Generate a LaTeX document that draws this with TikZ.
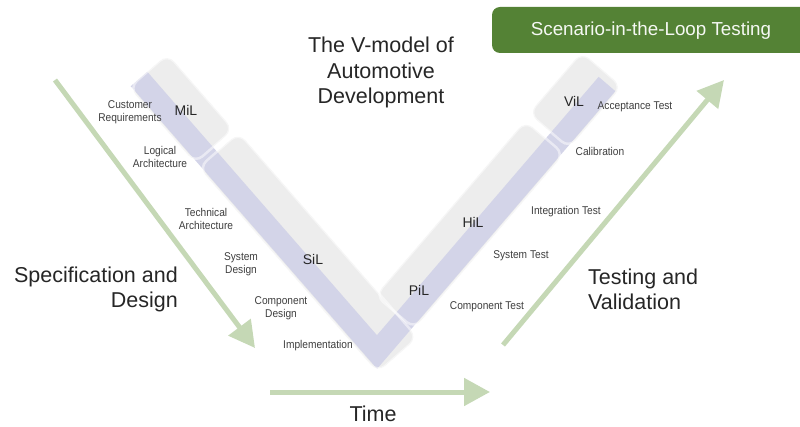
\documentclass[tikz,border=0pt]{standalone}
\usepackage{fontspec}
\setmainfont{Liberation Sans}
\newfontfamily\narrowsans[FakeStretch=0.9]{Liberation Sans}
\usetikzlibrary{arrows.meta}

\definecolor{vband}{RGB}{211,212,232}
\definecolor{vbox}{RGB}{237,237,237}
\definecolor{flow}{RGB}{197,216,181}
\definecolor{scenegreen}{RGB}{84,130,53}
\definecolor{ink}{RGB}{38,38,38}
\definecolor{labelink}{RGB}{62,62,62}

\begin{document}
\begin{tikzpicture}[x=1pt,y=-1pt,
  heading/.style={font=\fontsize{21.5}{25.5}\selectfont, text=ink, inner sep=0pt},
  stage/.style={font=\narrowsans\fontsize{11.3}{13.5}\selectfont, text=labelink, inner sep=0pt, align=center},
  level/.style={font=\fontsize{14}{16}\selectfont, text=ink, inner sep=0pt},
  phase/.style={fill=vbox, rounded corners=10pt},
  phaseedge/.style={draw=white, line width=2.5pt, draw opacity=0.5, rounded corners=10pt},
  leftarm/.style={shift={(139,79)}, x={(0.657pt,-0.754pt)}, y={(0.754pt,0.657pt)}},
  rightarm/.style={shift={(377,352)}, x={(0.651pt,0.759pt)}, y={(-0.759pt,0.651pt)}},
  flowarrow/.style={draw=flow, line width=5pt, -{Triangle[width=27pt,length=26pt]}},
  scenetext/.style={font=\fontsize{18.8}{22}\selectfont, text=white!94!scenegreen, inner sep=0pt}]

\useasboundingbox (0,0) rectangle (800,427);

% ends of the V band
\coordinate (topL) at (139,79);
\coordinate (vtx) at (377,352);
\coordinate (topR) at (607,84);

% phase boxes along the left arm (u along the arm, v towards the inside)
\begin{scope}[leftarm]
  \fill[phase] (0,-13) -- (100,-13) -- (100,38) -- (0,38) -- cycle;
  \fill[phase] (106,-13) -- (378,-13) -- (378,40) -- (106,40) -- cycle;
\end{scope}
% phase boxes along the right arm
\begin{scope}[rightarm]
  \fill[phase] (42,-13) -- (272,-13) -- (272,38) -- (42,38) -- cycle;
  \fill[phase] (280,-13) -- (361,-13) -- (361,40) -- (280,40) -- cycle;
\end{scope}

% the V band
\draw[vband, line width=22pt, line join=miter] (topL) -- (vtx) -- (topR);

% soft white rims of the phase boxes
\begin{scope}[leftarm]
  \draw[phaseedge] (0,-13) -- (100,-13) -- (100,38) -- (0,38) -- cycle;
  \draw[phaseedge] (106,-13) -- (378,-13) -- (378,40) -- (106,40) -- cycle;
\end{scope}
\begin{scope}[rightarm]
  \draw[phaseedge] (42,-13) -- (272,-13) -- (272,38) -- (42,38) -- cycle;
  \draw[phaseedge] (280,-13) -- (361,-13) -- (361,40) -- (280,40) -- cycle;
\end{scope}

% flow arrows
\coordinate (specstart) at (55,80);
\coordinate (specend) at (255,348);
\coordinate (timestart) at (270,392);
\coordinate (timeend) at (490,392);
\coordinate (teststart) at (503,345);
\coordinate (testend) at (724,80);
\draw[flowarrow] (specstart) -- (specend);
\draw[flowarrow] (timestart) -- (timeend);
\draw[flowarrow] (teststart) -- (testend);

% scenario banner
\fill[scenegreen, rounded corners=8pt] (492,7) rectangle (815,53);
\node[scenetext] (scenario) at (651,30.5) {Scenario-in-the-Loop Testing};

% headings
\node[heading, align=center] (title) at (381,72.5) {The V-model of\\Automotive\\Development};
\node[heading, align=right, anchor=east] (spec) at (178,289.5) {Specification and\\Design};
\node[heading, align=left, anchor=west] (testing) at (588,289.5) {Testing and\\Validation};
\node[heading] (time) at (373,414) {Time};

% left arm stages
\node[stage] (cust) at (130,112) {Customer\\Requirements};
\node[stage] (logic) at (160,157) {Logical\\Architecture};
\node[stage] (tech) at (206,219) {Technical\\Architecture};
\node[stage] (sysdesign) at (241,264) {System\\Design};
\node[stage] (compdesign) at (281,308) {Component\\Design};
\node[stage] (impl) at (318,346) {Implementation};

% right arm stages
\node[stage] (accept) at (635,107) {Acceptance Test};
\node[stage] (calib) at (600,151) {Calibration};
\node[stage] (integ) at (566,212) {Integration Test};
\node[stage] (systest) at (521,256) {System Test};
\node[stage] (comptest) at (487,307) {Component Test};

% test levels
\node[level] (mil) at (186,110) {MiL};
\node[level] (sil) at (313,259) {SiL};
\node[level] (pil) at (419,290) {PiL};
\node[level] (hil) at (473,222) {HiL};
\node[level] (vil) at (574,101) {ViL};
\end{tikzpicture}
\end{document}
